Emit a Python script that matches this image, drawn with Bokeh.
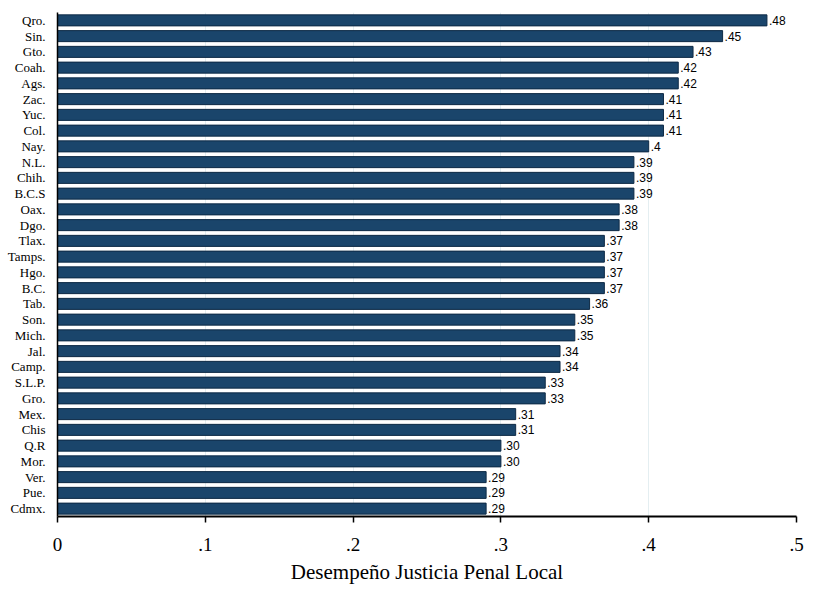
from bokeh.plotting import figure
from bokeh.models import FactorRange, Range1d, FixedTicker
from bokeh.core.properties import value
from bokeh.embed import file_html
from bokeh.resources import INLINE

states = ["Qro.", "Sin.", "Gto.", "Coah.", "Ags.", "Zac.", "Yuc.", "Col.", "Nay.",
          "N.L.", "Chih.", "B.C.S", "Oax.", "Dgo.", "Tlax.", "Tamps.", "Hgo.", "B.C.",
          "Tab.", "Son.", "Mich.", "Jal.", "Camp.", "S.L.P.", "Gro.", "Mex.", "Chis",
          "Q.R", "Mor.", "Ver.", "Pue.", "Cdmx."]
values = [0.48, 0.45, 0.43, 0.42, 0.42, 0.41, 0.41, 0.41, 0.40,
          0.39, 0.39, 0.39, 0.38, 0.38, 0.37, 0.37, 0.37, 0.37,
          0.36, 0.35, 0.35, 0.34, 0.34, 0.33, 0.33, 0.31, 0.31,
          0.30, 0.30, 0.29, 0.29, 0.29]
value_labels = [".48", ".45", ".43", ".42", ".42", ".41", ".41", ".41", ".4",
                ".39", ".39", ".39", ".38", ".38", ".37", ".37", ".37", ".37",
                ".36", ".35", ".35", ".34", ".34", ".33", ".33", ".31", ".31",
                ".30", ".30", ".29", ".29", ".29"]
x_ticks = [0, 0.1, 0.2, 0.3, 0.4, 0.5]
x_tick_labels = ["0", ".1", ".2", ".3", ".4", ".5"]
x_title = "Desempeño Justicia Penal Local"

p = figure(width=814, height=590, output_backend="svg", toolbar_location=None,
           y_range=FactorRange(factors=list(reversed(states)), range_padding=0),
           x_range=Range1d(0, 0.5),
           min_border_left=57, min_border_right=18, min_border_top=12, min_border_bottom=74)
p.outline_line_color = None
p.background_fill_color = "white"

p.hbar(y=states, right=values, left=0, height=0.7,
       fill_color="#1a456b", line_color="#0e2a45", line_width=1)
p.text(x=values, y=states, text=value_labels, x_offset=2,
       text_baseline="middle", text_align="left",
       text_font=value("Liberation Sans"), text_font_size="12px", text_color="black")

p.ygrid.grid_line_color = None
p.xgrid.grid_line_color = "#e4eef1"
p.xgrid.grid_line_width = 1
p.xaxis.ticker = FixedTicker(ticks=x_ticks)
p.xaxis.major_label_overrides = {t: l for t, l in zip(x_ticks, x_tick_labels)}
p.xaxis.minor_tick_line_color = None
p.xaxis.axis_line_width = 2
p.xaxis.axis_line_color = "black"
p.xaxis.major_tick_out = 6
p.xaxis.major_tick_in = 0
p.xaxis.major_tick_line_width = 1.5
p.xaxis.major_label_standoff = 15
p.xaxis.major_label_text_font = "Liberation Serif"
p.xaxis.major_label_text_font_size = "19px"
p.xaxis.major_label_text_color = "black"
p.xaxis.axis_label = x_title
p.xaxis.axis_label_text_font = "Liberation Serif"
p.xaxis.axis_label_text_font_size = "21px"
p.xaxis.axis_label_text_font_style = "normal"
p.xaxis.axis_label_text_color = "black"
p.xaxis.axis_label_standoff = 6

p.yaxis.axis_line_color = "black"
p.yaxis.axis_line_width = 1.5
p.yaxis.major_tick_line_color = None
p.yaxis.minor_tick_line_color = None
p.yaxis.major_label_standoff = 6
p.yaxis.major_label_text_font = "Liberation Serif"
p.yaxis.major_label_text_font_size = "13px"
p.yaxis.major_label_text_color = "black"

open("out.html", "w").write(file_html(p, INLINE))
